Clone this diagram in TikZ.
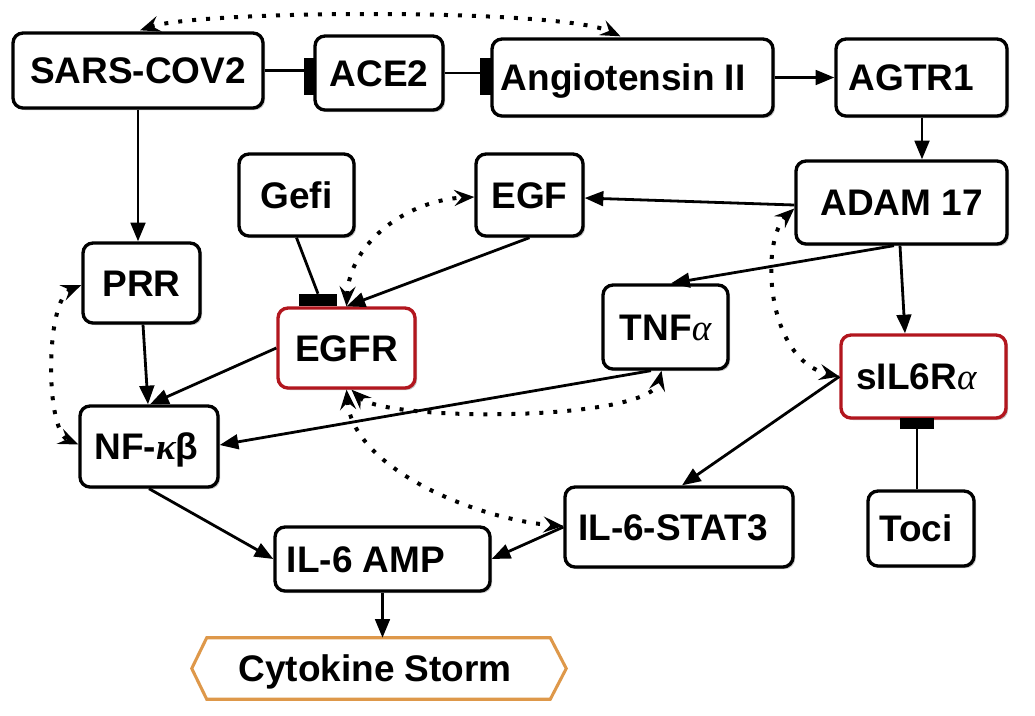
\documentclass[tikz,border=0pt]{standalone}
\usepackage{fontspec}
\setmainfont{Liberation Sans}
\newfontfamily\grk{Liberation Serif}
\usetikzlibrary{arrows.meta,calc,shadows}
\definecolor{redb}{RGB}{178,22,30}
\definecolor{orb}{RGB}{222,152,74}
\begin{document}
\begin{tikzpicture}[x=0.75pt,y=-0.75pt,
  sz/.style 2 args={minimum width=#1*0.75pt, minimum height=#2*0.75pt},
  box/.style={draw=black, line width=2.5pt, rounded corners=7.5pt, fill=white, inner sep=0pt,
    font=\fontsize{27.75}{30}\selectfont\bfseries, text height=19.5pt, text depth=0pt,
    drop shadow={shadow xshift=1.5pt, shadow yshift=-1.5pt, opacity=0.25, fill=black}},
  redbox/.style={box, draw=redb},
  bar/.style={fill=black, draw=none, inner sep=0pt},
  arr/.style={line width=2.1pt, -{Triangle[length=14pt,width=11pt]}},
  inh/.style={line width=2.1pt},
  dot/.style={line width=3pt, dash pattern=on 3pt off 7.5pt,
    {Stealth[length=15pt,width=12pt,inset=5.5pt]}-{Stealth[length=15pt,width=12pt,inset=5.5pt]}}
]
\useasboundingbox (0,0) rectangle (1035,715);

% nodes
\node[box, sz={250}{75}] (sars) at (138,70.5) {SARS-COV2};
\node[box, sz={128}{74}] (ace2) at (379,73) {ACE2};
\node[box, sz={281}{77}] (ang) at (632.5,77.5) {Angiotensin II\hspace*{14pt}};
\node[box, sz={171}{77}] (agtr) at (921.5,77.5) {AGTR1\hspace*{15pt}};
\node[box, sz={211}{83}] (adam) at (901.5,202.5) {ADAM 17};
\node[box, sz={115}{82}] (gefi) at (296.5,195) {Gefi};
\node[box, sz={107}{82}] (egf) at (529.5,195) {EGF};
\node[box, sz={117}{80}] (prr) at (141.5,283) {PRR};
\node[redbox, sz={137}{80}] (egfr) at (346.5,348) {EGFR};
\node[box, sz={125}{84}] (tnf) at (665.5,327) {TNF{\grk\mdseries\itshape α}};
\node[redbox, sz={165}{83}] (sil6r) at (923.5,376.5) {sIL6R{\grk\mdseries\itshape α}\hspace*{10.5pt}};
\node[box, sz={138}{81}] (nf) at (149,446.5) {NF-{\grk\itshape κ}β\hspace*{4pt}};
\node[box, sz={215}{64}] (amp) at (382.5,559) {IL-6 AMP\hspace*{24.75pt}};
\node[box, sz={228}{80}] (stat3) at (679,527) {IL-6-STAT3\hspace*{9pt}};
\node[box, sz={106}{75}] (toci) at (921,528.5) {Toci\hspace*{7.5pt}};
\node[inner sep=0pt, sz={343}{61}, font=\fontsize{27.75}{30}\selectfont\bfseries, text height=19.5pt, text depth=0pt] (cyto) at (378.5,668.5) {Cytokine Storm\hspace*{5pt}};
\draw[orb, line width=2.3pt] (cyto.north west) -- (cyto.north east) -- ($(cyto.east)+(16,0)$) -- (cyto.south east) -- (cyto.south west) -- ($(cyto.west)+(-15,0)$) -- cycle;

% inhibition bars
\node[bar, sz={11}{37}] (b1) at (309.5,76.5) {};
\node[bar, sz={12}{37}] (b2) at (486,76.5) {};
\node[bar, sz={38}{12}] (gbar) at (318,300) {};
\node[bar, sz={34}{11}] (tbar) at (917,423.5) {};

\draw[inh] (sars.east) -- (sars.east -| b1.west);
\draw[inh] (ace2.east) -- (ace2.east -| b2.west);
\draw[inh] (gefi.south) -- (gbar.north);
\draw[inh] (toci.north -| tbar.south) -- (tbar.south);

% solid arrows
\draw[arr] (sars.south) -- (sars.south |- prr.north);
\draw[arr] (ang.east) -- (agtr.west);
\draw[arr] ($(agtr.south)+(0.5,0)$) -- ($(agtr.south |- adam.north)+(0.5,0)$);
\draw[arr] ($(adam.west)+(0,2.5)$) -- ($(egf.east)+(0,3)$);
\draw[arr] ($(adam.south)+(-7.5,0)$) -- ($(tnf.north)+(5.5,0)$);
\draw[arr] ($(adam.south)+(-1.5,0)$) -- ($(sil6r.north)+(-18.5,0)$);
\draw[arr] (sil6r.west) -- ($(stat3.north)+(3,0)$);
\draw[arr] ($(tnf.south)+(-14.5,0)$) -- ($(nf.east)+(0,-1.5)$);
\draw[arr] (egfr.west) -- ($(nf.north)+(1,0)$);
\draw[arr] ($(prr.south)+(1.5,0)$) -- ($(nf.north)+(-1,0)$);
\draw[arr] (egf.south) -- (egfr.north);
\draw[arr] (nf.south) -- (amp.west);
\draw[arr] (stat3.west) -- (amp.east);
\draw[arr] (amp.south) -- (amp.south |- cyto.north);

% dotted bidirectional
\draw[dot] ($(sars.north)+(2,-1)$) .. controls (200,10) and (560,8) .. ($(ang.north)+(-12,-1)$);
\draw[dot] ($(prr.west)+(0,2)$) .. controls (45,300) and (45,430) .. ($(nf.west)+(0,-2)$);
\draw[dot] (egfr.north) .. controls (350,240) and (410,200) .. ($(egf.west)+(0,2)$);
\draw[dot] ($(egfr.south)+(5,0)$) .. controls (385,422) and (650,422) .. ($(tnf.south)+(-4,0)$);
\draw[dot] (egfr.south) .. controls (353,470) and (480,520) .. ($(stat3.west)+(0,-1)$);
\draw[dot] ($(adam.west)+(0,6)$) .. controls (760,240) and (765,360) .. (sil6r.west);
\end{tikzpicture}
\end{document}
